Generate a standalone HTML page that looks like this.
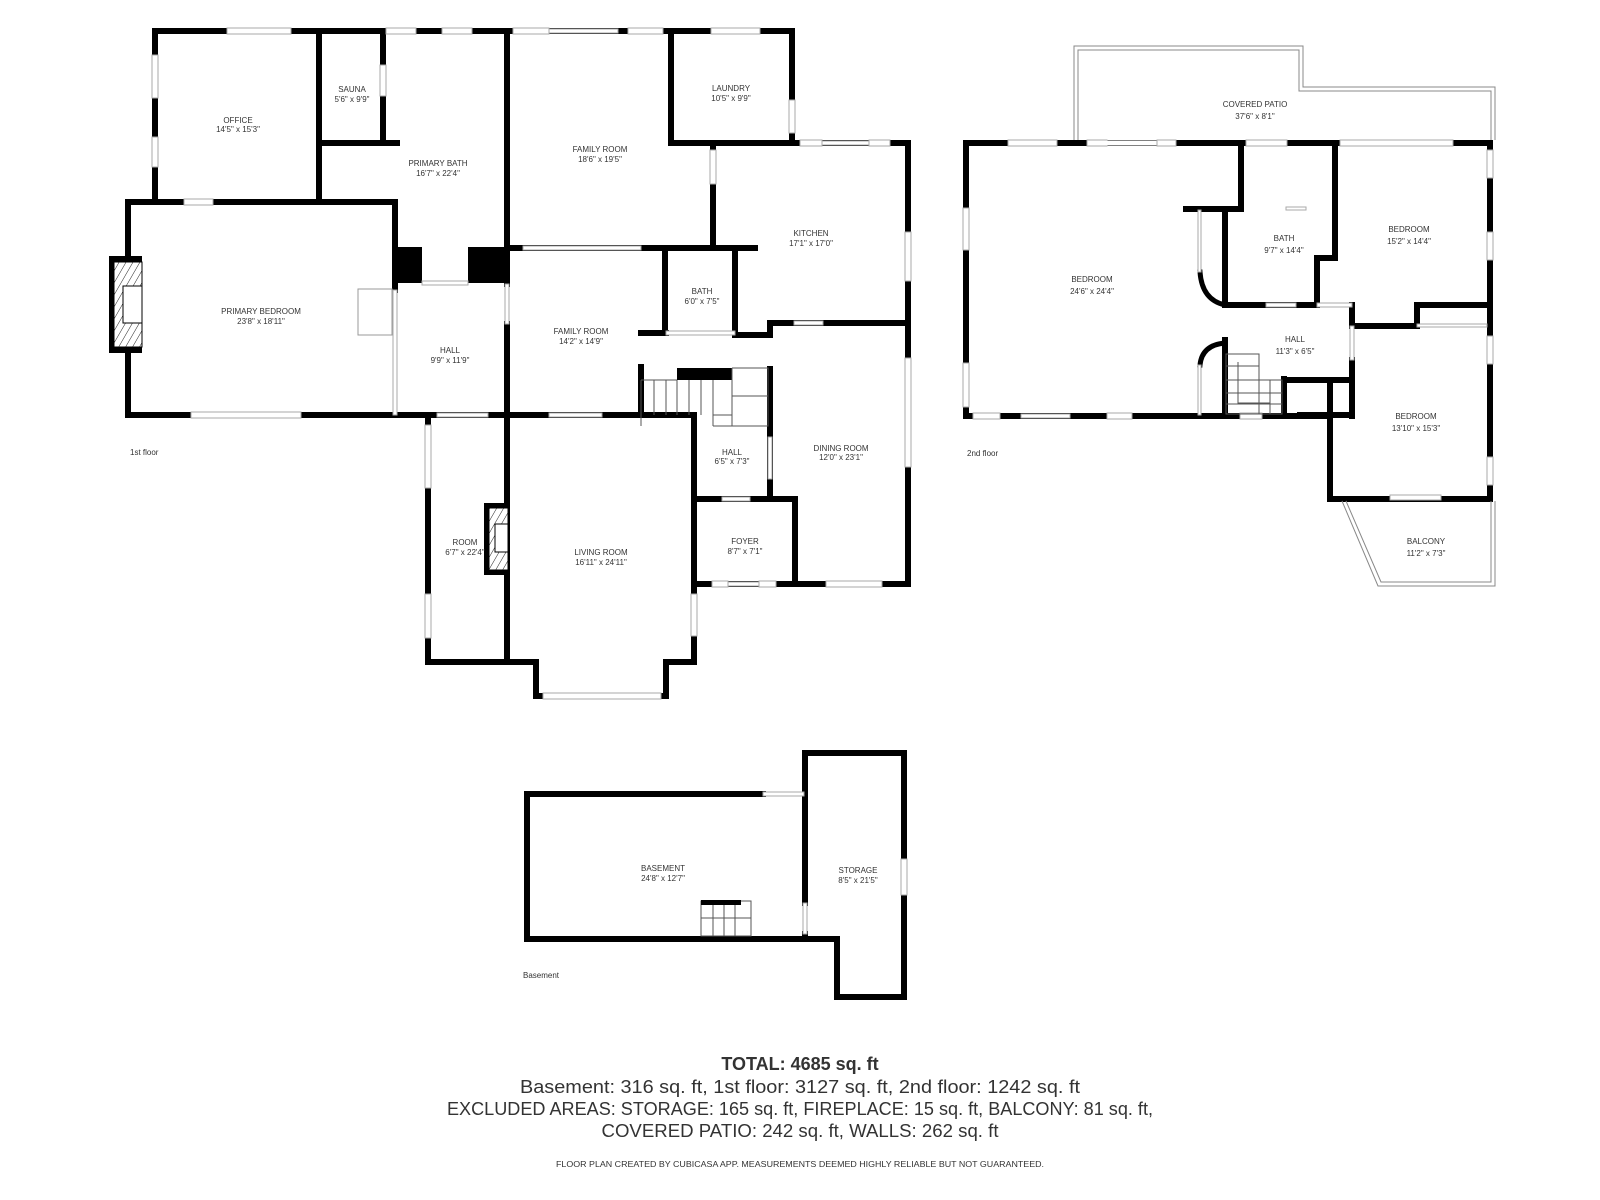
<!DOCTYPE html>
<html><head><meta charset="utf-8"><style>
html,body{margin:0;padding:0;background:#fff;}
svg{display:block;}
text{font-family:"Liberation Sans",sans-serif;fill:#333;}
.l{font-size:8px;text-anchor:middle;}
</style></head><body>
<svg width="1600" height="1200" viewBox="0 0 1600 1200" xmlns="http://www.w3.org/2000/svg">
<defs>
<pattern id="h" width="6" height="6" patternUnits="userSpaceOnUse" patternTransform="rotate(30)">
<rect width="6" height="6" fill="#fff"/>
<line x1="0" y1="0" x2="0" y2="6" stroke="#222" stroke-width="1"/>
</pattern>
</defs>
<g stroke="#000" stroke-width="6" stroke-linecap="square" fill="none">
<path d="M155 31H792M155 31V202M128 202H395M319 31V202M383 31V143M319 143H397M128 202V415M128 415H694M395 202V290"/>
<path d="M507 31V284M507 324V662M671 31V143H792M792 31V143M792 143H908V584M713 143V248M507 248H755"/>
<path d="M665 248V332M735 248V335M641 333H666M735 335H770V323H908M641 367V415"/>
<path d="M770 369V499M694 499H795V584M694 584H908"/>
<path d="M428 415V662H536V696H666V662H694V415"/>
<path d="M966 143H1490V499M966 143V416H1330M1330 380V499H1490M1241 143V209H1186M1225 209V305M1335 143V258H1317V305M1225 305H1317M1352 305V326H1417V305M1417 305H1490M1225 340V416M1284 379V416M1284 380H1352M1352 360V416M1300 415H1352"/>
<path d="M1200 272 Q1202 300 1225 305" stroke-width="5"/>
<path d="M1200 365 Q1202 345 1225 343" stroke-width="5"/>
<path d="M527 794H763M527 794V939H837V997H904V753H805V903M805 934V939"/>
</g>
<rect x="395" y="247" width="27" height="36" fill="#000"/>
<rect x="468" y="247" width="39" height="36" fill="#000"/>
<rect x="677" y="368" width="55" height="12" fill="#000"/>
<rect x="109" y="256" width="33" height="97" fill="#000"/>
<rect x="114" y="262" width="28" height="85" fill="url(#h)" stroke="#000" stroke-width="1"/>
<rect x="123" y="286" width="19" height="37" fill="#fff" stroke="#000" stroke-width="1"/>
<rect x="484" y="503" width="24" height="72" fill="#000"/>
<rect x="489" y="508" width="19" height="62" fill="url(#h)" stroke="#000" stroke-width="1"/>
<rect x="495" y="524" width="13" height="28" fill="#fff" stroke="#000" stroke-width="1"/>
<g fill="#fff" stroke="#aaa" stroke-width="1">
<rect x="227" y="28" width="64" height="6"/><rect x="386" y="28" width="30" height="6"/><rect x="442" y="28" width="30" height="6"/>
<rect x="513" y="28" width="36" height="6"/><rect x="549" y="29" width="69" height="4"/><rect x="628" y="28" width="35" height="6"/><rect x="711" y="28" width="49" height="6"/>
<rect x="152" y="55" width="6" height="43"/><rect x="152" y="137" width="6" height="30"/>
<rect x="380" y="65" width="6" height="31"/><rect x="184" y="199" width="29" height="6"/>
<rect x="191" y="412" width="110" height="6"/><rect x="789" y="100" width="6" height="33"/>
<rect x="800" y="140" width="22" height="6"/><rect x="822" y="141" width="47" height="4"/><rect x="869" y="140" width="21" height="6"/>
<rect x="905" y="232" width="6" height="49"/><rect x="905" y="358" width="6" height="109"/>
<rect x="710" y="150" width="6" height="34"/><rect x="523" y="246" width="118" height="4"/>
<rect x="794" y="321" width="29" height="4"/><rect x="666" y="331" width="69" height="4"/>
<rect x="768" y="437" width="4" height="42"/><rect x="437" y="413" width="51" height="4"/><rect x="549" y="413" width="53" height="4"/>
<rect x="425" y="425" width="6" height="63"/><rect x="425" y="594" width="6" height="44"/>
<rect x="543" y="693" width="118" height="6"/><rect x="691" y="594" width="6" height="42"/>
<rect x="722" y="497" width="28" height="4"/>
<rect x="712" y="581" width="16" height="6"/><rect x="728" y="582" width="31" height="4"/><rect x="759" y="581" width="17" height="6"/><rect x="826" y="581" width="56" height="6"/>
<rect x="505" y="284" width="4" height="40"/><rect x="393" y="290" width="4" height="125"/>
<rect x="422" y="281" width="46" height="4"/>
<rect x="358" y="289" width="34" height="46" stroke="#999"/>
<rect x="1008" y="140" width="49" height="6"/><rect x="1087" y="140" width="20" height="6"/><rect x="1107" y="141" width="50" height="4" stroke="#fff"/>
<rect x="1157" y="140" width="19" height="6"/><rect x="1246" y="140" width="41" height="6"/><rect x="1340" y="140" width="113" height="6"/>
<rect x="963" y="208" width="6" height="42"/><rect x="963" y="363" width="6" height="44"/>
<rect x="973" y="413" width="27" height="6"/><rect x="1021" y="414" width="49" height="4"/><rect x="1107" y="413" width="25" height="6"/><rect x="1240" y="413" width="22" height="6"/>
<rect x="1487" y="150" width="6" height="28"/><rect x="1487" y="232" width="6" height="28"/><rect x="1487" y="336" width="6" height="28"/><rect x="1487" y="457" width="6" height="28"/>
<rect x="1266" y="303" width="30" height="4"/><rect x="1317" y="303" width="35" height="4"/><rect x="1417" y="324" width="70" height="3"/>
<rect x="1390" y="495" width="51" height="5"/><rect x="1350" y="326" width="4" height="34"/>
<rect x="1198" y="210" width="3" height="62"/><rect x="1198" y="365" width="3" height="50"/>
<rect x="1286" y="207" width="20" height="3"/>
<rect x="763" y="792" width="41" height="4"/><rect x="803" y="903" width="4" height="31"/><rect x="901" y="859" width="6" height="36"/>
</g>
<g stroke="#555" stroke-width="1" fill="none">
<path d="M641 380H677M641 380V426M654 380V415M666 380V415M677 380V415M689 380V415M701 380V415M713 380V426M732 368V426M732 368H768V426H732M732 396H768M713 415H732M713 426H768"/>
<path d="M1226 354H1259V380H1282V414H1226ZM1226 366H1259M1226 380H1259M1226 393H1282M1226 404H1282M1259 380V414M1270 380V414"/>
<path d="M1238 362V403H1270"/>
<path d="M701 901H751V936H701ZM713 901V936M724 901V936M735 901V936M701 918H751"/>
</g>
<rect x="701" y="900" width="40" height="5" fill="#000"/>
<g fill="none" stroke="#888" stroke-width="1">
<path d="M1074 140V46H1303V87H1495V140"/><path d="M1078 140V50H1299V91H1491V140"/>
<path d="M1342 501L1378 586H1495V501"/><path d="M1346 501L1381 582H1491V501"/>
</g>
<g class="l">
<text x="238" y="123" class="l">OFFICE</text><text x="238" y="132" class="l">14'5" x 15'3"</text>
<text x="352" y="92" class="l">SAUNA</text><text x="352" y="102" class="l">5'6" x 9'9"</text>
<text x="438" y="166" class="l">PRIMARY BATH</text><text x="438" y="176" class="l">16'7" x 22'4"</text>
<text x="600" y="152" class="l">FAMILY ROOM</text><text x="600" y="162" class="l">18'6" x 19'5"</text>
<text x="731" y="91" class="l">LAUNDRY</text><text x="731" y="101" class="l">10'5" x 9'9"</text>
<text x="811" y="236" class="l">KITCHEN</text><text x="811" y="246" class="l">17'1" x 17'0"</text>
<text x="261" y="314" class="l">PRIMARY BEDROOM</text><text x="261" y="324" class="l">23'8" x 18'11"</text>
<text x="702" y="294" class="l">BATH</text><text x="702" y="304" class="l">6'0" x 7'5"</text>
<text x="581" y="334" class="l">FAMILY ROOM</text><text x="581" y="344" class="l">14'2" x 14'9"</text>
<text x="450" y="353" class="l">HALL</text><text x="450" y="363" class="l">9'9" x 11'9"</text>
<text x="732" y="455" class="l">HALL</text><text x="732" y="464" class="l">6'5" x 7'3"</text>
<text x="841" y="451" class="l">DINING ROOM</text><text x="841" y="460" class="l">12'0" x 23'1"</text>
<text x="465" y="545" class="l">ROOM</text><text x="465" y="555" class="l">6'7" x 22'4"</text>
<text x="601" y="555" class="l">LIVING ROOM</text><text x="601" y="565" class="l">16'11" x 24'11"</text>
<text x="745" y="544" class="l">FOYER</text><text x="745" y="554" class="l">8'7" x 7'1"</text>
<text x="1255" y="107" class="l">COVERED PATIO</text><text x="1255" y="119" class="l">37'6" x 8'1"</text>
<text x="1092" y="282" class="l">BEDROOM</text><text x="1092" y="294" class="l">24'6" x 24'4"</text>
<text x="1284" y="241" class="l">BATH</text><text x="1284" y="253" class="l">9'7" x 14'4"</text>
<text x="1409" y="232" class="l">BEDROOM</text><text x="1409" y="244" class="l">15'2" x 14'4"</text>
<text x="1295" y="342" class="l">HALL</text><text x="1295" y="354" class="l">11'3" x 6'5"</text>
<text x="1416" y="419" class="l">BEDROOM</text><text x="1416" y="431" class="l">13'10" x 15'3"</text>
<text x="1426" y="544" class="l">BALCONY</text><text x="1426" y="556" class="l">11'2" x 7'3"</text>
<text x="663" y="871" class="l">BASEMENT</text><text x="663" y="881" class="l">24'8" x 12'7"</text>
<text x="858" y="873" class="l">STORAGE</text><text x="858" y="883" class="l">8'5" x 21'5"</text>
</g>
<text x="130" y="455" font-size="8">1st floor</text>
<text x="967" y="456" font-size="8">2nd floor</text>
<text x="523" y="978" font-size="8">Basement</text>
<g text-anchor="middle" fill="#111">
<text x="800" y="1070" font-size="18" font-weight="bold" fill="#111">TOTAL: 4685 sq. ft</text>
<text x="800" y="1093" font-size="18" textLength="560" lengthAdjust="spacingAndGlyphs" fill="#111">Basement: 316 sq. ft, 1st floor: 3127 sq. ft, 2nd floor: 1242 sq. ft</text>
<text x="800" y="1115" font-size="18" textLength="706" lengthAdjust="spacingAndGlyphs" fill="#111">EXCLUDED AREAS: STORAGE: 165 sq. ft, FIREPLACE: 15 sq. ft, BALCONY: 81 sq. ft,</text>
<text x="800" y="1137" font-size="18" textLength="397" lengthAdjust="spacingAndGlyphs" fill="#111">COVERED PATIO: 242 sq. ft, WALLS: 262 sq. ft</text>
<text x="800" y="1167" font-size="8" textLength="488" lengthAdjust="spacingAndGlyphs" fill="#aaa">FLOOR PLAN CREATED BY CUBICASA APP. MEASUREMENTS DEEMED HIGHLY RELIABLE BUT NOT GUARANTEED.</text>
</g>
</svg>
</body></html>
